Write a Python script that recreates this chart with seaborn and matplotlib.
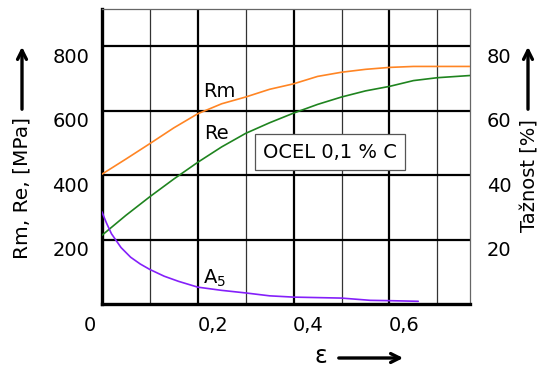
import matplotlib
matplotlib.use("Agg")
import matplotlib.pyplot as plt
import matplotlib.transforms as mtransforms
import numpy as np
import pandas as pd
import seaborn as sns

# strain (epsilon) and strength values
eps_rm = [0.0, 0.05, 0.1, 0.15, 0.2, 0.25, 0.3, 0.35, 0.4, 0.45, 0.5, 0.55, 0.6, 0.65, 0.7, 0.77]
rm = [403, 450, 498, 547, 591, 622, 643, 667, 684, 707, 720, 729, 735, 738, 738, 738]

eps_re = [0.0, 0.05, 0.1, 0.15, 0.2, 0.25, 0.3, 0.35, 0.4, 0.45, 0.5, 0.55, 0.6, 0.65, 0.7, 0.77]
re = [213, 275, 333, 388, 440, 488, 530, 563, 593, 620, 643, 662, 676, 694, 703, 710]

eps_a5 = [0.0, 0.01, 0.02, 0.04, 0.06, 0.08, 0.1, 0.13, 0.16, 0.2, 0.25, 0.3, 0.35, 0.4, 0.5, 0.56, 0.6, 0.66]
a5 = [28.6, 25.0, 21.8, 17.5, 14.5, 12.4, 10.7, 8.6, 7.0, 5.2, 4.2, 3.4, 2.5, 2.1, 1.8, 1.1, 1.0, 0.8]

x_ticks = [0.0, 0.2, 0.4, 0.6]
x_tick_labels = ["0", "0,2", "0,4", "0,6"]
x_minor = [0.1, 0.3, 0.5, 0.7]
y_ticks = [200, 400, 600, 800]
y2_ticks = [20, 40, 60, 80]

sns.set_theme(style="white")
plt.rcParams["font.family"] = ["DejaVu Sans"]
plt.rcParams["text.color"] = "black"

fig = plt.figure(figsize=(5.39, 3.67), dpi=100)
ax = fig.add_axes([0.189, 0.172, 0.683, 0.803])
ax2 = ax.twinx()

rm_df = pd.DataFrame({"eps": eps_rm, "val": rm})
re_df = pd.DataFrame({"eps": eps_re, "val": re})
a5_df = pd.DataFrame({"eps": eps_a5, "val": a5})

sns.lineplot(data=rm_df, x="eps", y="val", ax=ax, color="#ff8524", lw=1.2, zorder=5)
sns.lineplot(data=re_df, x="eps", y="val", ax=ax, color="#1f841f", lw=1.2, zorder=5)
sns.lineplot(data=a5_df, x="eps", y="val", ax=ax2, color="#8420fa", lw=1.2, zorder=5)

ax.set_xlim(0, 0.768)
ax.set_ylim(0, 916)
ax2.set_ylim(0, 91.6)

ax.set_xticks(x_ticks)
ax.set_xticklabels(x_tick_labels)
ax.set_xticks(x_minor, minor=True)
ax.set_yticks(y_ticks)
ax2.set_yticks(y2_ticks)

ax.grid(True, which="major", color="black", lw=1.6)
ax.grid(True, which="minor", axis="x", color="#333333", lw=0.9)
ax.set_axisbelow(True)
ax2.grid(False)

ax.tick_params(axis="both", which="both", length=0, labelsize=14, colors="black")
ax.tick_params(axis="x", pad=9)
ax.tick_params(axis="y", pad=9)
ax2.tick_params(axis="y", length=0, labelsize=14, pad=12, colors="black")

for side in ["left", "bottom"]:
    ax.spines[side].set_color("black")
    ax.spines[side].set_linewidth(2.4)
for side in ["top", "right"]:
    ax.spines[side].set_color("#666666")
    ax.spines[side].set_linewidth(0.9)
for side in ax2.spines:
    ax2.spines[side].set_visible(False)

ax.set_xlabel("")
ax.set_ylabel("")
ax2.set_ylabel("")

# tick label nudges as in the original drawing
px = 1 / 100
for lbl, dx in zip(ax.get_xticklabels(), [-12, 15, 15, 15]):
    lbl.set_transform(lbl.get_transform() + mtransforms.ScaledTranslation(dx * px, 0, fig.dpi_scale_trans))
for lbl in ax.get_yticklabels() + ax2.get_yticklabels():
    lbl.set_transform(lbl.get_transform() + mtransforms.ScaledTranslation(0, -9 * px, fig.dpi_scale_trans))

# curve labels
ax.text(0.246, 660, "Rm", fontsize=14, ha="center", va="center")
ax.text(0.24, 530, "Re", fontsize=14, ha="center", va="center")
ax.text(0.236, 80, "A$_5$", fontsize=14, ha="center", va="center")
ax.text(0.476, 472, "OCEL 0,1 % C", fontsize=14, ha="center", va="center",
        bbox=dict(boxstyle="square,pad=0.42", fc="white", ec="#555555", lw=0.9), zorder=6)

# axis labels with arrows (figure pixel coordinates)
W, H = 539, 367
fig.text(22 / W, 1 - 188 / H, "Rm, Re, [MPa]", rotation=90, fontsize=14.5, ha="center", va="center")
fig.text(530 / W, 1 - 176 / H, "Tažnost [%]", rotation=90, fontsize=14, ha="center", va="center")
fig.text(321 / W, 1 - 356 / H, "ε", fontsize=17, ha="center", va="center")
arrow = dict(arrowstyle="->", lw=2.4, color="black", mutation_scale=16)
fig.add_artist(matplotlib.patches.FancyArrowPatch((22 / W, 1 - 112 / H), (22 / W, 1 - 44 / H),
                                                  transform=fig.transFigure, **arrow))
fig.add_artist(matplotlib.patches.FancyArrowPatch((528 / W, 1 - 112 / H), (528 / W, 1 - 44 / H),
                                                  transform=fig.transFigure, **arrow))
fig.add_artist(matplotlib.patches.FancyArrowPatch((336 / W, 1 - 358 / H), (406 / W, 1 - 358 / H),
                                                  transform=fig.transFigure, **arrow))

fig.savefig("out.png", dpi=100)
plt.close(fig)
